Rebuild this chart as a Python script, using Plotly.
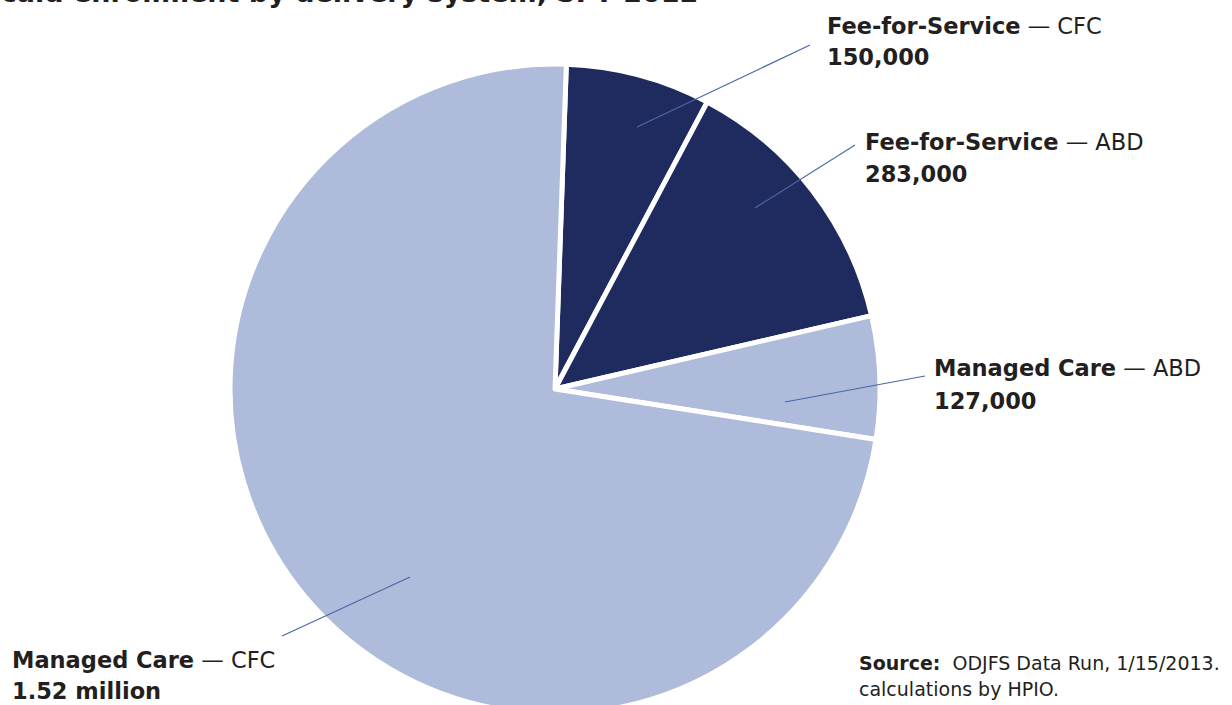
import plotly.graph_objects as go

W, H = 1232, 720

# data
delivery = ["Fee-for-Service", "Fee-for-Service", "Managed Care", "Managed Care"]
groups = ["CFC", "ABD", "ABD", "CFC"]
enrollment = [150000, 283000, 127000, 1520000]
value_labels = ["150,000", "283,000", "127,000", "1.52 million"]

title = "Medicaid enrollment by delivery system, SFY 2012"
source_1 = "<b>Source:</b>&nbsp; ODJFS Data Run, 1/15/2013."
source_2 = "calculations by HPIO."

# styling / layout (pixels)
navy = "#1f2b5e"
light = "#aebbdb"
slice_colors = [navy, navy, light, light]
txt = "#231f20"
lead = "#4a69a6"
font = "DejaVu Sans"

cx, cy, r = 555, 389, 325
label_pos = [(825, 26, 57), (863, 142, 174), (932, 368, 401), (10, 660, 691)]
leaders = [(637, 127, 810, 45), (755, 208, 855, 145), (785, 402, 925, 376), (410, 577, 282, 636)]


def px(x):
    return x / W


def py(y):
    return 1 - y / H


fig = go.Figure(go.Pie(
    labels=[d + " — " + g for d, g in zip(delivery, groups)],
    values=enrollment,
    sort=False,
    direction="clockwise",
    rotation=2,
    textinfo="none",
    hoverinfo="label+value",
    marker=dict(colors=slice_colors, line=dict(color="white", width=5)),
    domain=dict(x=[px(cx - r), px(cx + r)], y=[py(cy + r), py(cy - r)]),
    showlegend=False,
))

ann = []
shapes = []
for d, g, v, (lx, y1, y2), (x0, y0, x1, y1_) in zip(delivery, groups, value_labels, label_pos, leaders):
    ann.append(dict(text="<b>" + d + "</b> — " + g, x=px(lx), y=py(y1), xref="paper", yref="paper",
                    xanchor="left", yanchor="middle", showarrow=False,
                    font=dict(family=font, size=22.5, color=txt)))
    ann.append(dict(text="<b>" + v + "</b>", x=px(lx), y=py(y2), xref="paper", yref="paper",
                    xanchor="left", yanchor="middle", showarrow=False,
                    font=dict(family=font, size=22.5, color=txt)))
    shapes.append(dict(type="line", xref="paper", yref="paper", x0=px(x0), y0=py(y0), x1=px(x1), y1=py(y1_),
                       line=dict(color=lead, width=1.2)))

# title sits mostly above the visible area, as in the cropped original
ann.append(dict(text="<b>" + title + "</b>", x=px(700), y=py(-8), xref="paper", yref="paper",
                xanchor="right", yanchor="middle", showarrow=False,
                font=dict(family=font, size=27, color=txt)))
ann.append(dict(text=source_1, x=px(857), y=py(663), xref="paper", yref="paper",
                xanchor="left", yanchor="middle", showarrow=False,
                font=dict(family=font, size=19, color=txt)))
ann.append(dict(text=source_2, x=px(857), y=py(689), xref="paper", yref="paper",
                xanchor="left", yanchor="middle", showarrow=False,
                font=dict(family=font, size=19, color=txt)))

fig.update_layout(
    width=W, height=H, autosize=False,
    margin=dict(l=0, r=0, t=0, b=0),
    paper_bgcolor="white", plot_bgcolor="white",
    annotations=ann, shapes=shapes,
)

fig.write_html("out.html", config={"displayModeBar": False},
               post_script="document.body.style.margin='0';document.body.style.overflow='hidden';")
